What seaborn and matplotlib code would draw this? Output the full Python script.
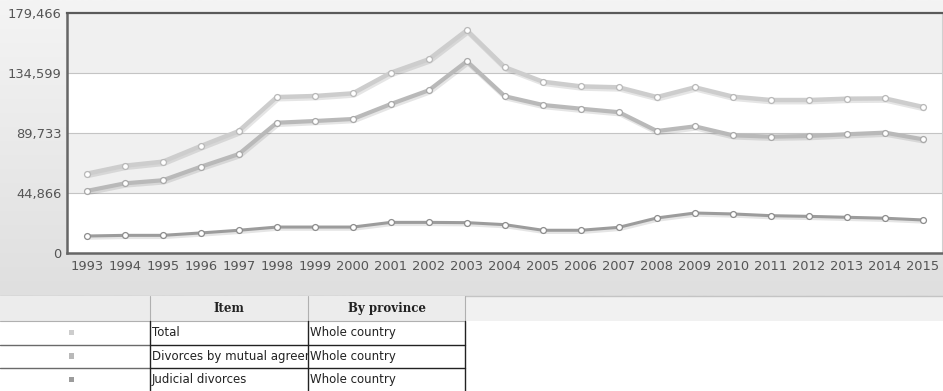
import numpy as np
import pandas as pd
import matplotlib
matplotlib.use("Agg")
import matplotlib.pyplot as plt
import matplotlib.patheffects as pe
from matplotlib.patches import Rectangle
import seaborn as sns

years = list(range(1993, 2016))
series_names = ["Total", "Divorces by mutual agreement", "Judicial divorces"]
province = "Whole country"
total = [59300, 65300, 68300, 80000, 91200, 116600, 117400, 119400, 134800, 144900,
         166600, 138900, 128100, 124600, 123900, 116600, 123900, 116900, 114400, 114400,
         115400, 115600, 109200]
mutual = [46400, 52100, 54400, 64500, 74000, 97400, 98700, 100200, 111400, 121700,
          143400, 117200, 110700, 107900, 105300, 91200, 94700, 88000, 87000, 87500,
          88800, 90000, 85000]
judicial = [12700, 13200, 13200, 15000, 17000, 19400, 19400, 19400, 22900, 22900,
            22700, 21200, 17000, 17000, 19200, 26200, 29900, 29200, 27900, 27400,
            26700, 26000, 24700]
y_ticks = [0, 44866, 89733, 134599, 179466]

colors = ["#cdcdcd", "#b9b9b9", "#9c9c9c"]
widths = [3.2, 3.0, 2.2]

df = pd.DataFrame({
    "year": years * 3,
    "value": total + mutual + judicial,
    "series": [series_names[0]] * len(years) + [series_names[1]] * len(years) + [series_names[2]] * len(years),
})

sns.set_theme(style="white")
plt.rcParams["font.family"] = ["DejaVu Sans"]

W, H = 943, 391
fig = plt.figure(figsize=(W / 100, H / 100), dpi=100)
fig.patch.set_facecolor("white")

# background (figure-level, pixel coordinates)
bg = fig.add_axes([0, 0, 1, 1], zorder=-10)
bg.set_xlim(0, W)
bg.set_ylim(H, 0)
bg.axis("off")
grad = np.linspace(0, 1, 256).reshape(-1, 1)
cmap = matplotlib.colors.LinearSegmentedColormap.from_list("g", ["#f4f4f4", "#dfdfdf"])
bg.imshow(grad, cmap=cmap, aspect="auto", extent=(0, W, 296, 0), zorder=0)
bg.add_patch(Rectangle((0, 296), W, 25, facecolor="#f1f1f1", edgecolor="none", zorder=1))
bg.plot([0, W], [296, 296], color="#c4c4c4", lw=1, zorder=2)

# main chart
ax = fig.add_axes([67 / W, 1 - 253 / H, 875 / W, 240 / H])
ax.set_facecolor("white")
ax.axhspan(y_ticks[3], y_ticks[4], color="#f0f0f0", zorder=0, lw=0)
ax.axhspan(y_ticks[1], y_ticks[2], color="#f0f0f0", zorder=0, lw=0)
for v in y_ticks[1:4]:
    ax.axhline(v, color="#c4c4c4", lw=0.8, zorder=1)

sns.lineplot(data=df, x="year", y="value", hue="series", hue_order=series_names,
             palette=colors, ax=ax, legend=False, zorder=3)
for line, w in zip(ax.lines[-3:], widths):
    line.set_linewidth(w)
    line.set_solid_joinstyle("round")
    line.set_path_effects([pe.SimpleLineShadow(offset=(0.8, -1.6), shadow_color="black", alpha=0.10),
                           pe.Normal()])

edge_cols = ["#b8b8b8", "#a8a8a8", "#8c8c8c"]
for name, ec in zip(series_names, edge_cols):
    sub = df[df["series"] == name]
    sns.scatterplot(data=sub, x="year", y="value", color="white", edgecolor=ec,
                    s=18, linewidth=0.9, ax=ax, zorder=5, legend=False)

ax.set_xlim(years[0] - 0.52, years[-1] + 0.5)
ax.set_ylim(0, y_ticks[-1])
ax.set_xticks(years)
ax.set_xticklabels([str(y) for y in years])
ax.set_yticks(y_ticks)
ax.set_yticklabels([f"{v:,}" for v in y_ticks])
ax.set_xlabel("")
ax.set_ylabel("")
ax.tick_params(axis="both", length=0, labelsize=9.4, labelcolor="#555555")
ax.tick_params(axis="x", pad=5)
ax.tick_params(axis="y", pad=4)
for s in ["left", "bottom"]:
    ax.spines[s].set_color("#666666")
    ax.spines[s].set_linewidth(1.8)
ax.spines["top"].set_color("#5a5a5a")
ax.spines["top"].set_linewidth(1.6)
ax.spines["right"].set_color("#d0d0d0")
ax.spines["right"].set_linewidth(0.8)

# table below (pixel coordinates)
tb = fig.add_axes([0, 0, 1, 95 / H], zorder=2)
tb.set_xlim(0, W)
tb.set_ylim(95, 0)
tb.axis("off")
tb.patch.set_alpha(0)
cols = [0, 150, 308, 465]
rows = [0, 25, 48.5, 72, 95]
# header
tb.add_patch(Rectangle((0, 0), 465, 25, facecolor="#ececec", edgecolor="none", zorder=1))
tb.add_patch(Rectangle((0, 25), 465, 70, facecolor="white", edgecolor="none", zorder=1))
for x in cols[1:]:
    tb.plot([x, x], [0, 25], color="#b0b0b0", lw=0.8, zorder=8)
tb.plot([0, 465], [25, 25], color="#b0b0b0", lw=0.8, zorder=8)
tb.text((cols[1] + cols[2]) / 2, 12.5, "Item", ha="center", va="center",
        fontsize=8.5, fontweight="bold", family=["DejaVu Serif"], color="#222222", zorder=4)
tb.text((cols[2] + cols[3]) / 2, 12.5, "By province", ha="center", va="center",
        fontsize=8.5, fontweight="bold", family=["DejaVu Serif"], color="#222222", zorder=4)
# body: third column cells are opaque and cover any overflow from the second column
tb.add_patch(Rectangle((cols[2], 25), cols[3] - cols[2], 70, facecolor="white",
                       edgecolor="none", zorder=5))
for i, (name, c) in enumerate(zip(series_names, colors)):
    y0, y1 = rows[i + 1], rows[i + 2]
    yc = (y0 + y1) / 2
    tb.add_patch(Rectangle((68.5, yc - 3), 5.5, 5.5, facecolor=c, edgecolor="none", zorder=3))
    tb.text(cols[1] + 2, yc, name, ha="left", va="center", fontsize=8.5,
            color="#222222", zorder=4)
    tb.text(cols[2] + 2, yc, province, ha="left", va="center", fontsize=8.5,
            color="#222222", zorder=6)
    if i < 2:
        tb.plot([0, cols[1]], [y1, y1], color="#6a6a6a", lw=1.0, zorder=8)
        tb.plot([cols[1], cols[3]], [y1, y1], color="#222222", lw=1.0, zorder=8)
for x in cols[1:]:
    tb.plot([x, x], [25, 95], color="#222222", lw=1.0, zorder=8)

fig.savefig("out.png", dpi=100, facecolor=fig.get_facecolor())
